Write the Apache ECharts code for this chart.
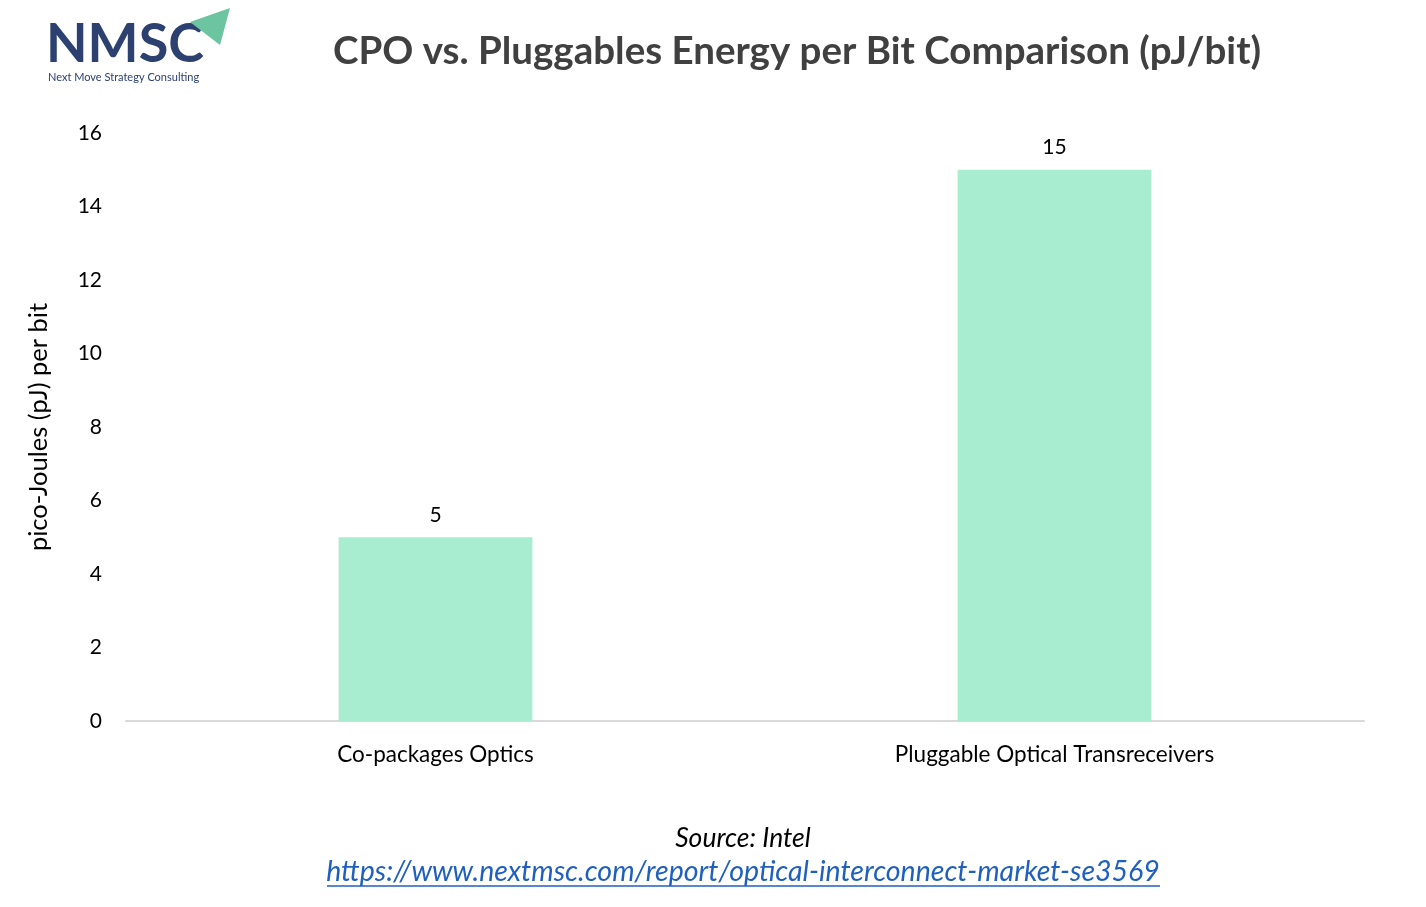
<!DOCTYPE html>
<html>
<head>
<meta charset="utf-8">
<script src="https://cdn.jsdelivr.net/npm/echarts@6/dist/echarts.min.js"></script>
<style>html,body{margin:0;padding:0;background:#fff}#c{width:1426px;height:907px}</style>
</head>
<body>
<div id="c"></div>
<script>
const categories = ['Co-packages Optics', 'Pluggable Optical Transreceivers'];
const values = [5, 15];
const yTicks = [0, 2, 4, 6, 8, 10, 12, 14, 16];

const FONT = 'Lato, "Open Sans", sans-serif';
const chart = echarts.init(document.getElementById('c'));
chart.setOption({
  backgroundColor: '#ffffff',
  animation: false,
  title: {
    text: 'CPO vs. Pluggables Energy per Bit Comparison (pJ/bit)',
    left: 792, top: 27, textAlign: 'center',
    textStyle: { fontFamily: FONT, fontSize: 38.5, fontWeight: 'bold', color: '#404040' }
  },
  grid: { left: 126, right: 62, top: 133, bottom: 186, containLabel: false },
  xAxis: {
    type: 'category', data: categories,
    axisLine: { lineStyle: { color: '#d9d9d9', width: 2 } },
    axisTick: { show: false },
    axisLabel: { fontFamily: FONT, fontSize: 22.5, color: '#000', margin: 22 }
  },
  yAxis: {
    type: 'value', min: yTicks[0], max: yTicks[yTicks.length - 1], interval: 2,
    name: 'pico-Joules (pJ) per bit', nameLocation: 'middle', nameGap: 74,
    nameTextStyle: { fontFamily: FONT, fontSize: 25.5, color: '#000' },
    splitLine: { show: false }, axisLine: { show: false }, axisTick: { show: false },
    axisLabel: { fontFamily: FONT, fontSize: 21, color: '#000', margin: 24 }
  },
  series: [{
    type: 'bar', data: values, barWidth: '31.3%',
    itemStyle: { color: '#a8edcf' },
    label: { show: true, position: 'top', distance: 12, fontFamily: FONT, fontSize: 21, color: '#000' }
  }],
  graphic: [
    { type: 'text', left: 46, top: 18, style: { text: 'NMSC', font: 'bold 54px ' + FONT, fill: '#2c4170' } },
    { type: 'polygon', shape: { points: [[190, 22], [230, 8], [220, 45]] }, style: { fill: '#6cc4a0' } },
    { type: 'text', left: 48, top: 72, style: { text: 'Next Move Strategy Consulting', font: '11px ' + FONT, fill: '#2c4170' } },
    { type: 'text', x: 743, y: 838, style: { text: 'Source: Intel', font: 'italic 26.5px ' + FONT, fill: '#000', align: 'center', verticalAlign: 'middle' } },
    { type: 'text', x: 743, y: 872, style: { text: 'https://www.nextmsc.com/report/optical-interconnect-market-se3569', font: 'italic 28.5px ' + FONT, fill: '#1f5fbf', align: 'center', verticalAlign: 'middle' } },
    { type: 'line', shape: { x1: 327, y1: 886, x2: 1160, y2: 886 }, style: { stroke: '#1f5fbf', lineWidth: 1.5 } }
  ]
});
</script>
</body>
</html>
